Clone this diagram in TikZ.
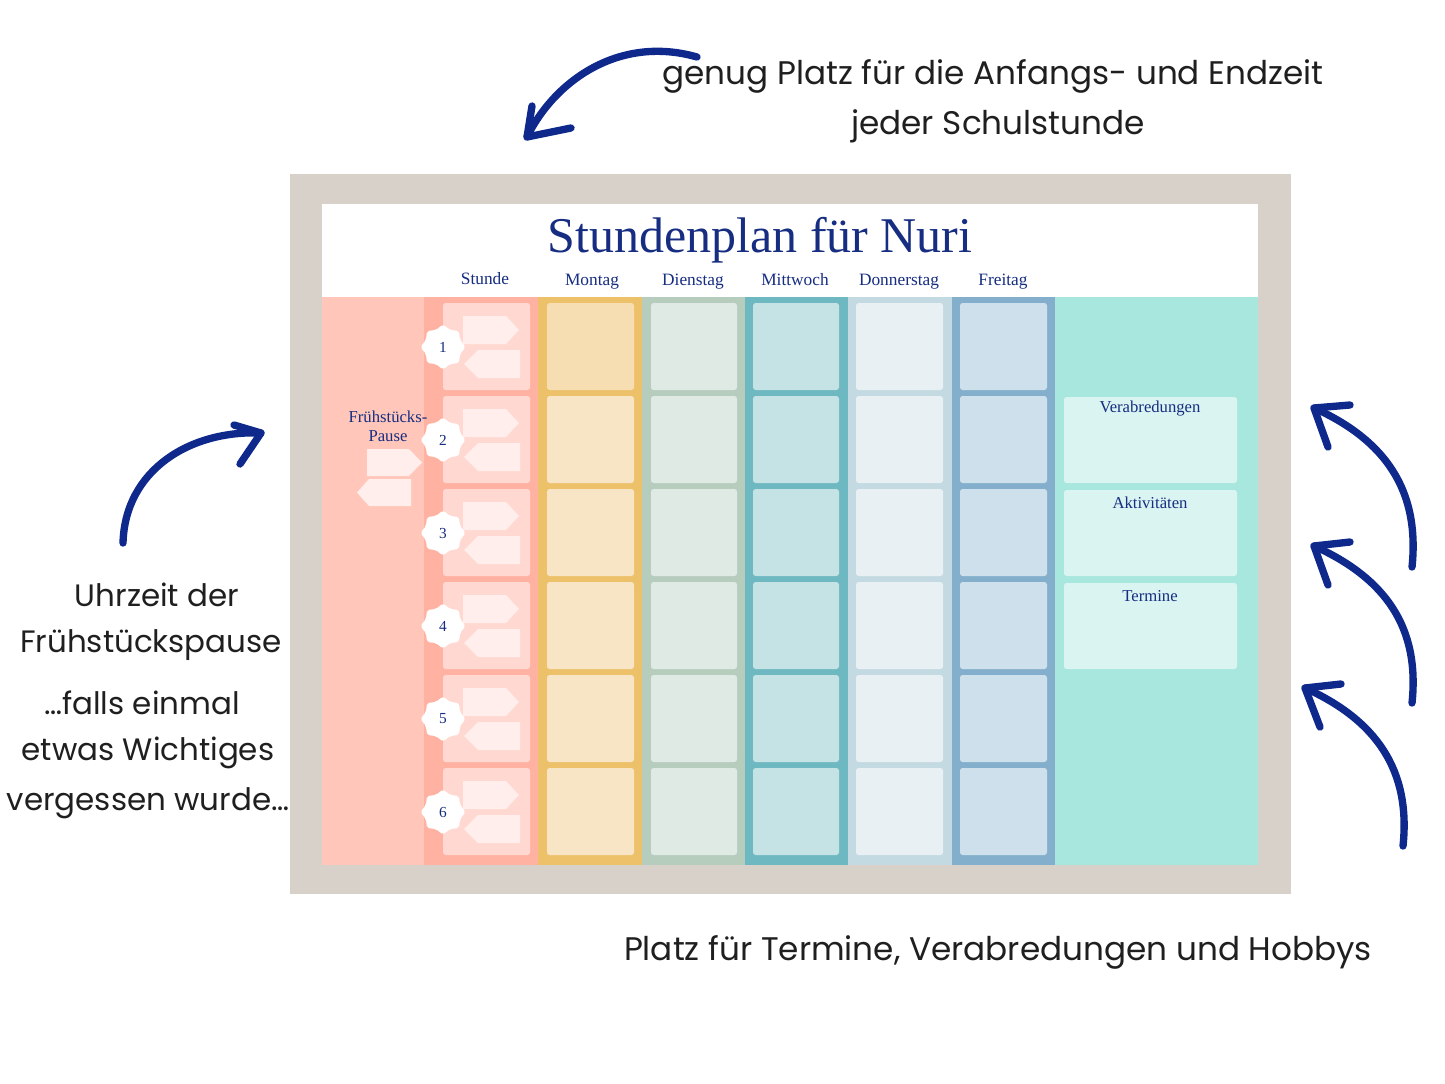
\documentclass[tikz,border=0pt]{standalone}
\usepackage{fontspec}
\setmainfont{Liberation Serif}
\newfontfamily\annfont{Poppins}
\usetikzlibrary{calc}
\definecolor{navy}{RGB}{22,45,130}
\definecolor{arrowblue}{RGB}{14,40,140}
\definecolor{framegrey}{RGB}{216,209,202}
\definecolor{salmonA}{RGB}{255,198,185}
\definecolor{salmonB}{RGB}{255,178,162}
\definecolor{salmonCell}{RGB}{255,217,209}
\definecolor{tagcol}{RGB}{255,238,235}
\definecolor{monB}{RGB}{237,192,106}
\definecolor{monC}{RGB}{248,229,198}
\definecolor{monC1}{RGB}{247,222,178}
\definecolor{dieB}{RGB}{182,205,190}
\definecolor{dieC}{RGB}{224,234,228}
\definecolor{mitB}{RGB}{110,184,194}
\definecolor{mitC}{RGB}{197,226,229}
\definecolor{donB}{RGB}{196,218,226}
\definecolor{donC}{RGB}{232,240,243}
\definecolor{freB}{RGB}{131,175,205}
\definecolor{freC}{RGB}{206,224,235}
\definecolor{mintB}{RGB}{167,231,222}
\definecolor{mintC}{RGB}{218,244,241}
\tikzset{
  daylabel/.style={text=navy,font=\fontsize{13}{15}\selectfont,inner sep=0pt,anchor=base},
  boxlabel/.style={text=navy,font=\fontsize{12.5}{14}\selectfont,inner sep=0pt,anchor=base},
  badgetext/.style={inner sep=0pt,text=navy,font=\fontsize{11.5}{12}\selectfont},
  ann/.style={text=black!88,font=\annfont\fontsize{24.5}{28}\selectfont,inner sep=0pt},
  annL/.style={text=black!88,font=\annfont\fontsize{23.2}{28}\selectfont,inner sep=0pt},
  arr/.style={arrowblue,line width=5.5pt,line cap=round,line join=round},
  cell/.style={rounded corners=2}
}
\begin{document}
\begin{tikzpicture}[x=0.75pt,y=-0.75pt]
\useasboundingbox (0,0) rectangle (1445,1084);
\fill[white] (0,0) rectangle (1445,1084);
% frame
\fill[framegrey] (290,174) rectangle (1291,894);
\fill[white] (322,204) rectangle (1258,297);
% columns
\fill[salmonA] (322,297) rectangle (424,865);
\fill[salmonB] (424,297) rectangle (538,865);
\fill[monB] (538,297) rectangle (642,865);
\fill[dieB] (642,297) rectangle (745,865);
\fill[mitB] (745,297) rectangle (848,865);
\fill[donB] (848,297) rectangle (952,865);
\fill[freB] (952,297) rectangle (1055,865);
\fill[mintB] (1055,297) rectangle (1258,865);
% cells
\foreach \i in {0,...,5}{
  \pgfmathsetmacro\yt{303+93*\i}
  \pgfmathsetmacro\yb{\yt+87}
  \fill[salmonCell,cell] (443,\yt) rectangle (530,\yb);
  \ifnum\i=0 \fill[monC1,cell] (547,\yt) rectangle (634,\yb);
  \else \fill[monC,cell] (547,\yt) rectangle (634,\yb); \fi
  \fill[dieC,cell] (651,\yt) rectangle (737,\yb);
  \fill[mitC,cell] (753,\yt) rectangle (839,\yb);
  \fill[donC,cell] (856,\yt) rectangle (943,\yb);
  \fill[freC,cell] (960,\yt) rectangle (1047,\yb);
  % tags
  \fill[tagcol] (463,\yt+13) -- (506,\yt+13) -- (519,\yt+27) -- (506,\yt+41) -- (463,\yt+41) -- cycle;
  \fill[tagcol] (478,\yt+47) -- (520,\yt+47) -- (520,\yt+75) -- (478,\yt+75) -- (464,\yt+61) -- cycle;
}
% hour badges (8-pointed soft stars)
\foreach \i [evaluate=\i as \yc using 347+93*(\i-1)] in {1,...,6}{
  \fill[white,rounded corners=1.5] (443,\yc) ++(90:22.5)
    \foreach \k in {1,...,15}{ -- ($(443,\yc)+({90+22.5*\k}:{mod(\k,2)==1 ? 18.5 : 22.5})$) } -- cycle;
  \node[badgetext] (b\i) at (443,\yc) {\i};
}
% breakfast tags
\fill[tagcol] (367,449) -- (409,449) -- (422,462.5) -- (409,476) -- (367,476) -- cycle;
\fill[tagcol] (369,479) -- (411,479) -- (411,506) -- (369,506) -- (357,492.5) -- cycle;
\node[text=navy,font=\fontsize{12.5}{14}\selectfont,align=center,inner sep=0pt] (pause) at (388,426) {Frühstücks-\\Pause};
% right boxes
\fill[mintC,cell] (1064,397) rectangle (1237,483);
\fill[mintC,cell] (1064,490) rectangle (1237,576);
\fill[mintC,cell] (1064,583) rectangle (1237,669);
\node[boxlabel] (verab) at (1150,412) {Verabredungen};
\node[boxlabel] (aktiv) at (1150,508) {Aktivitäten};
\node[boxlabel] (term) at (1150,601) {Termine};
% title and labels
\node[text=navy,font=\fontsize{37.5}{40}\selectfont,inner sep=0pt] (title) at (760,240) {Stundenplan für Nuri};
\node[daylabel] (stunde) at (485,285) {Stunde};
\node[daylabel] (mo) at (592,286) {Montag};
\node[daylabel] (di) at (693,286) {Dienstag};
\node[daylabel] (mi) at (795,286) {Mittwoch};
\node[daylabel] (do) at (899,286) {Donnerstag};
\node[daylabel] (fr) at (1003,286) {Freitag};
% annotations
\node[ann] (top1) at (993,76) {genug Platz für die Anfangs- und Endzeit};
\node[ann] (top2) at (998,126) {jeder Schulstunde};
\node[annL] (l1) at (157,595) {Uhrzeit der};
\node[annL] (l2) at (151,645) {Frühstückspause};
\node[annL] (l3) at (142,703) {…falls einmal};
\node[annL] (l4) at (148,753) {etwas Wichtiges};
\node[annL] (l5) at (148,803) {vergessen wurde…};
\node[ann] (bot) at (998,952) {Platz für Termine, Verabredungen und Hobbys};
% arrows
\coordinate (t1s) at (697,57); \coordinate (t1e) at (527,137);
\draw[arr] (t1s) .. controls (620,35) and (555,80) .. (t1e);
\draw[arr] (532,106) -- (t1e) -- (571,128);
\coordinate (l1s) at (123,543); \coordinate (l1e) at (261,433);
\draw[arr] (l1s) .. controls (125,470) and (190,430) .. (l1e);
\draw[arr] (234,425) -- (l1e) -- (240,464);
\coordinate (r1s) at (1412,567); \coordinate (r1e) at (1314,408);
\draw[arr] (r1s) .. controls (1420,490) and (1385,440) .. (r1e);
\draw[arr] (1350,405) -- (r1e) -- (1328,447);
\coordinate (r2s) at (1412,703); \coordinate (r2e) at (1314,546);
\draw[arr] (r2s) .. controls (1420,627) and (1385,578) .. (r2e);
\draw[arr] (1350,542) -- (r2e) -- (1328,585);
\coordinate (r3s) at (1403,846); \coordinate (r3e) at (1305,688);
\draw[arr] (r3s) .. controls (1411,770) and (1376,720) .. (r3e);
\draw[arr] (1341,684) -- (r3e) -- (1320,727);
\end{tikzpicture}
\end{document}
